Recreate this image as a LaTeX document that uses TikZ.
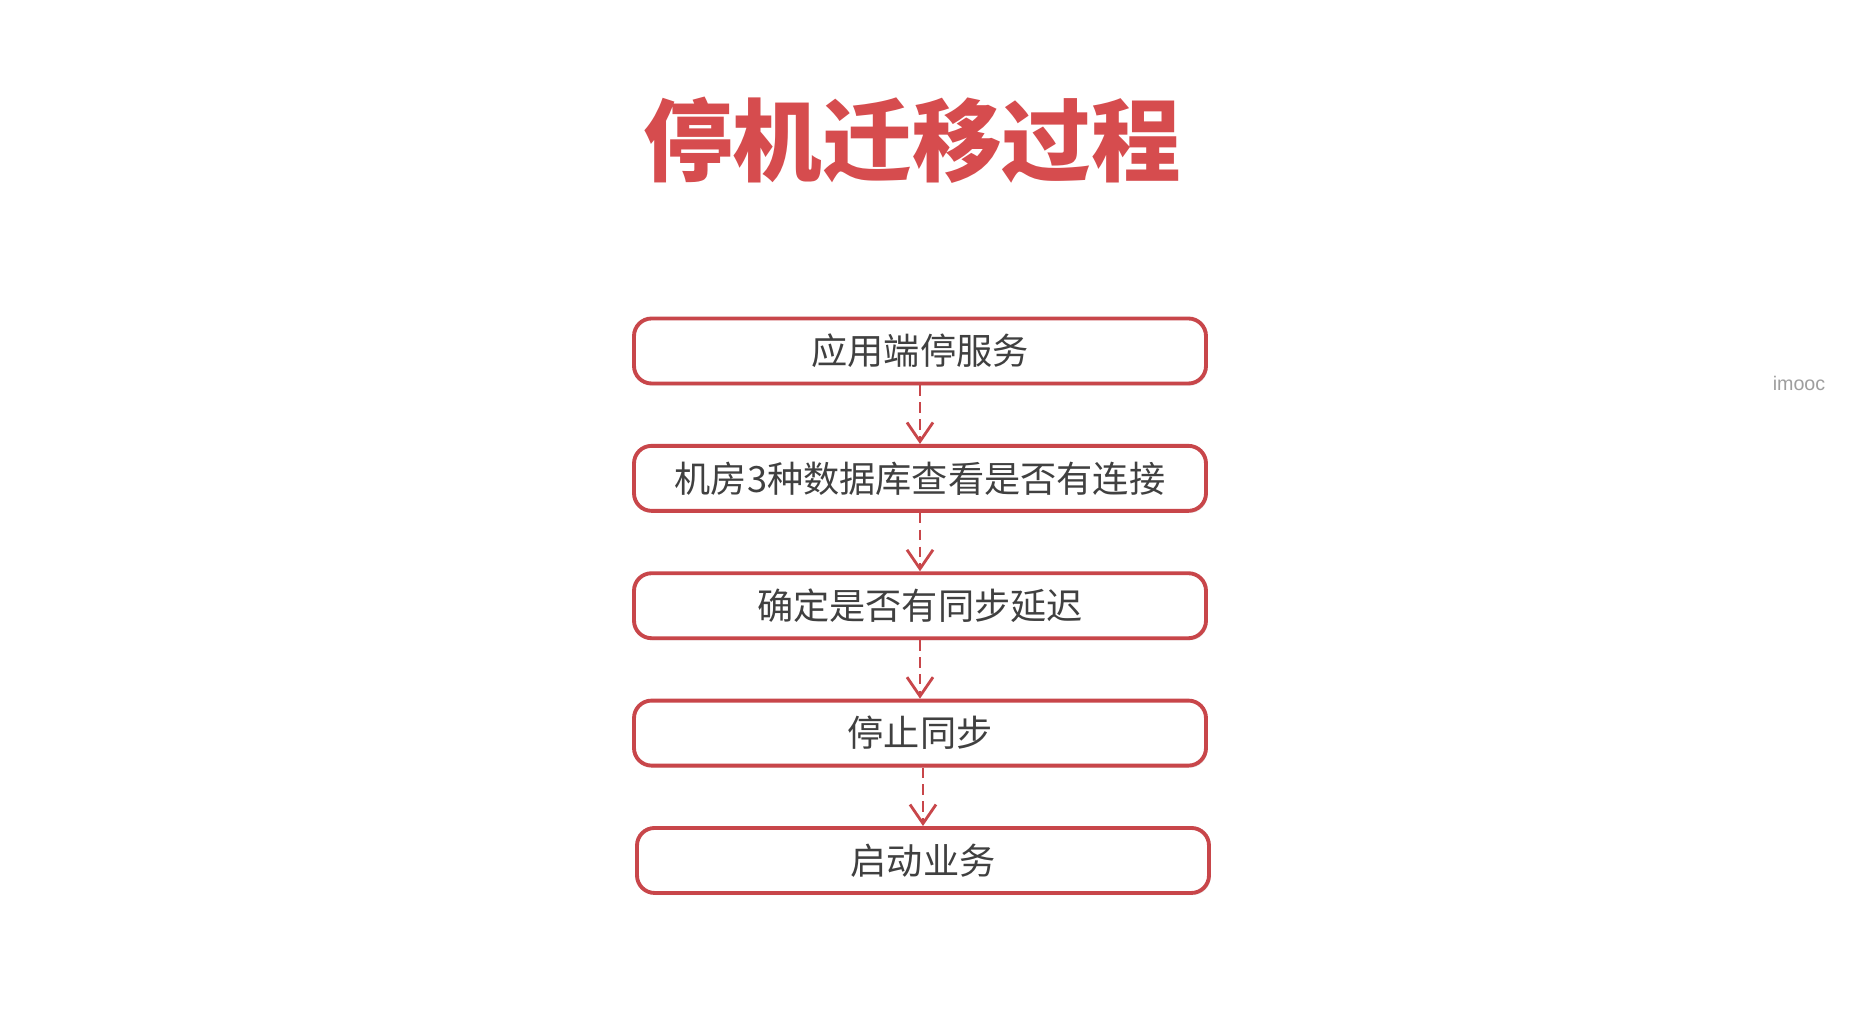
\documentclass[tikz,border=0pt]{standalone}
\usepackage{fontspec}
\setmainfont{Noto Sans CJK SC}
\newfontfamily\latinsans{Liberation Sans}
\usetikzlibrary{positioning,arrows.meta,shadows}
\definecolor{titlered}{RGB}{214,76,78}
\definecolor{boxred}{RGB}{200,70,74}
\definecolor{textgray}{RGB}{64,64,64}
\begin{document}
\begin{tikzpicture}[
    stepbox/.style ={rectangle, rounded corners=5pt, draw=boxred, line width=1.1pt, fill=white,
      minimum width=5.72cm, minimum height=0.65cm, inner sep=0pt, text=textgray,
      font=\fontsize{10.3}{12}\selectfont,
      drop shadow={opacity=0.18, shadow xshift=0.4pt, shadow yshift=-0.6pt}},
    flow/.style ={boxred, dashed, dash pattern=on 3pt off 1.8pt, line width=0.8pt,
      -{Straight Barb[length=1.9mm,width=2.6mm,line width=0.8pt]}},
    node distance=0.585cm]
   \useasboundingbox[fill=white] (0,0) rectangle (18.58,10.36);
   \node[text=titlered, font=\fontsize{25.5}{28}\selectfont\bfseries] (title) at (9.12,8.96) {停机迁移过程};
   \node[stepbox] (s1) at (9.20,6.85) {应用端停服务};
   \node[stepbox, below=of s1] (s2) {机房3种数据库查看是否有连接};
   \node[stepbox, below=of s2] (s3) {确定是否有同步延迟};
   \node[stepbox, below=of s3] (s4) {停止同步};
   \node[stepbox, below=of s4, xshift=0.03cm] (s5) {启动业务};
   \draw[flow] (s1) to (s2);
   \draw[flow] (s2) to (s3);
   \draw[flow] (s3) to (s4);
   \draw[flow] (s4.south -| s5) to (s5);
   \node[text=black!38, font=\latinsans\fontsize{5.6}{7}\selectfont] (wm) at (17.99,6.53) {imooc};
 \end{tikzpicture}
\end{document}
